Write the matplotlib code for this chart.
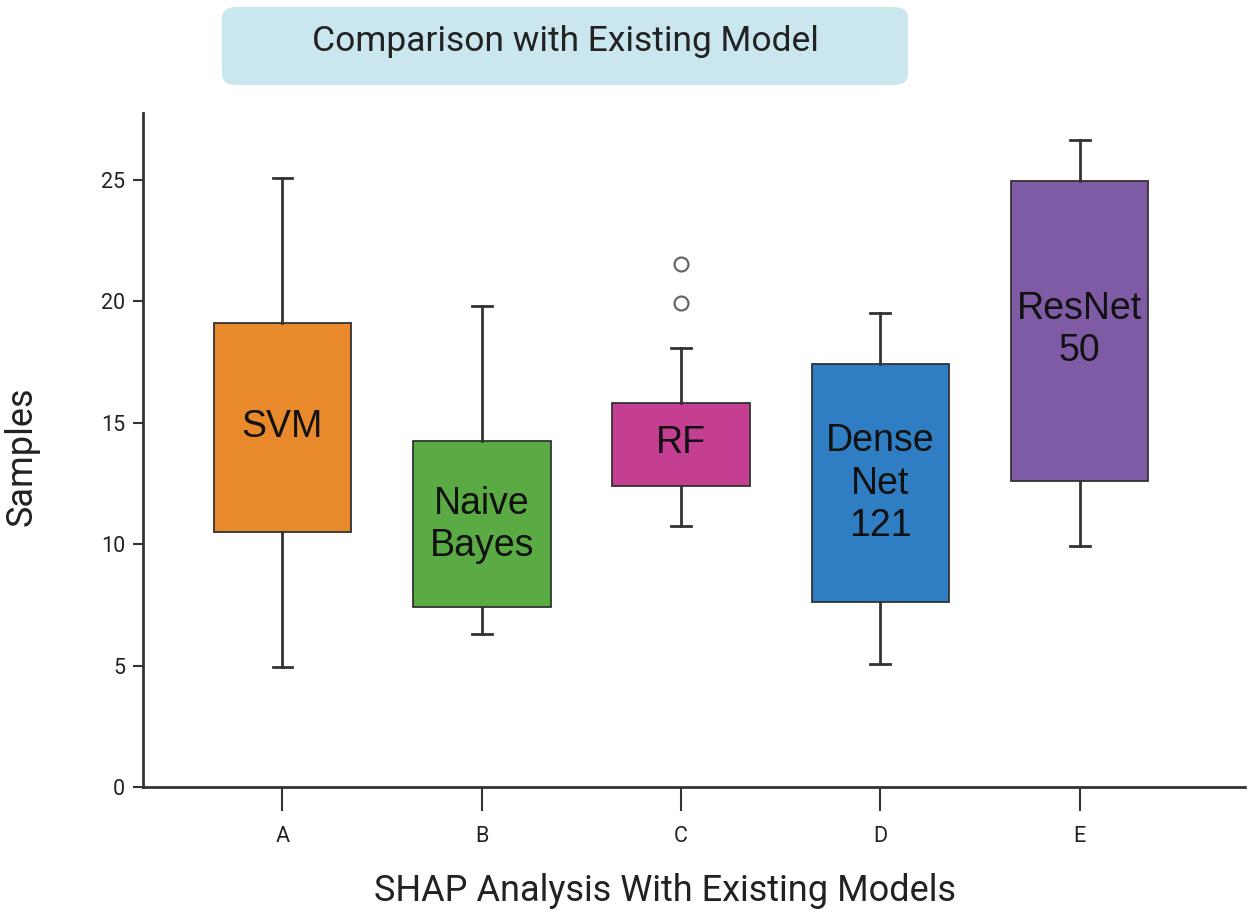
import matplotlib.pyplot as plt
from matplotlib.patches import FancyBboxPatch

# ---------------------------------------------------------------
# Data (box stats per model)
# ---------------------------------------------------------------
positions = ["A", "B", "C", "D", "E"]
model_names = ["SVM", "Naive\nBayes", "RF", "Dense\nNet\n121", "ResNet\n50"]
whisker_low = [4.96, 6.30, 10.76, 5.08, 9.93]
q1_values = [10.52, 7.41, 12.38, 7.64, 12.61]
q3_values = [19.12, 14.27, 15.81, 17.43, 24.96]
whisker_high = [25.08, 19.83, 18.10, 19.52, 26.66]
outliers = [[], [], [21.53, 19.95], [], []]
label_y = [14.82, 10.80, 14.15, 12.50, 18.81]
box_colors = ["#E8892B", "#5BAB45", "#C43E91", "#2F7DC3", "#7F5BA6"]

edge = "#333333"
plt.rcParams["font.family"] = ["Roboto", "DejaVu Sans"]

fig = plt.figure(figsize=(12.5, 9.18), dpi=100)
ax = fig.add_axes([0.1144, 0.1427, 0.8816, 0.7342])

stats = []
for i in range(len(positions)):
    stats.append({
        "whislo": whisker_low[i],
        "q1": q1_values[i],
        "med": (q1_values[i] + q3_values[i]) / 2,
        "q3": q3_values[i],
        "whishi": whisker_high[i],
        "fliers": outliers[i],
        "label": positions[i],
    })

bp = ax.bxp(stats, positions=range(len(positions)), widths=0.69,
            patch_artist=True, showcaps=True,
            boxprops=dict(edgecolor=edge, linewidth=1.3),
            whiskerprops=dict(color=edge, linewidth=2.0),
            capprops=dict(color=edge, linewidth=2.0),
            medianprops=dict(visible=False),
            flierprops=dict(marker="o", markersize=10, markerfacecolor="white",
                            markeredgecolor="#666666", markeredgewidth=1.6),
            capwidths=0.1)
for patch, c in zip(bp["boxes"], box_colors):
    patch.set_facecolor(c)

for i, (name, y) in enumerate(zip(model_names, label_y)):
    ax.text(i, y, name, ha="center", va="center", fontsize=27,
            family="Liberation Sans", color="#111111", linespacing=1.22)

ax.set_xlim(-0.70, 4.83)
ax.set_ylim(0, 27.76)
ax.set_yticks([0, 5, 10, 15, 20, 25])
ax.set_xticks(range(len(positions)))
ax.set_xticklabels(positions)

for s in ["top", "right"]:
    ax.spines[s].set_visible(False)
for s in ["left", "bottom"]:
    ax.spines[s].set_color(edge)
    ax.spines[s].set_linewidth(2.0)

ax.tick_params(axis="x", length=17, width=1.5, color=edge, labelsize=15.5,
               pad=11, labelcolor="#222222")
ax.tick_params(axis="y", length=7, width=1.5, color=edge, labelsize=15.5,
               pad=6, labelcolor="#222222")

ax.set_xlabel("SHAP Analysis With Existing Models", fontsize=26,
              color="#222222")
ax.xaxis.set_label_coords(0.474, -0.128)
ax.set_ylabel("Samples", fontsize=26, color="#222222")
ax.yaxis.set_label_coords(-0.094, 0.49)

# title inside a rounded light-blue box
title_box = FancyBboxPatch((0.1776, 0.9074), 0.5488, 0.085,
                           boxstyle="round,pad=0,rounding_size=0.012",
                           transform=fig.transFigure, facecolor="#CAE7EF",
                           edgecolor="none")
fig.patches.append(title_box)
fig.text(0.452, 0.955, "Comparison with Existing Model", ha="center",
         va="center", fontsize=25.5, color="#222222")

fig.savefig("out.png", dpi=100)
